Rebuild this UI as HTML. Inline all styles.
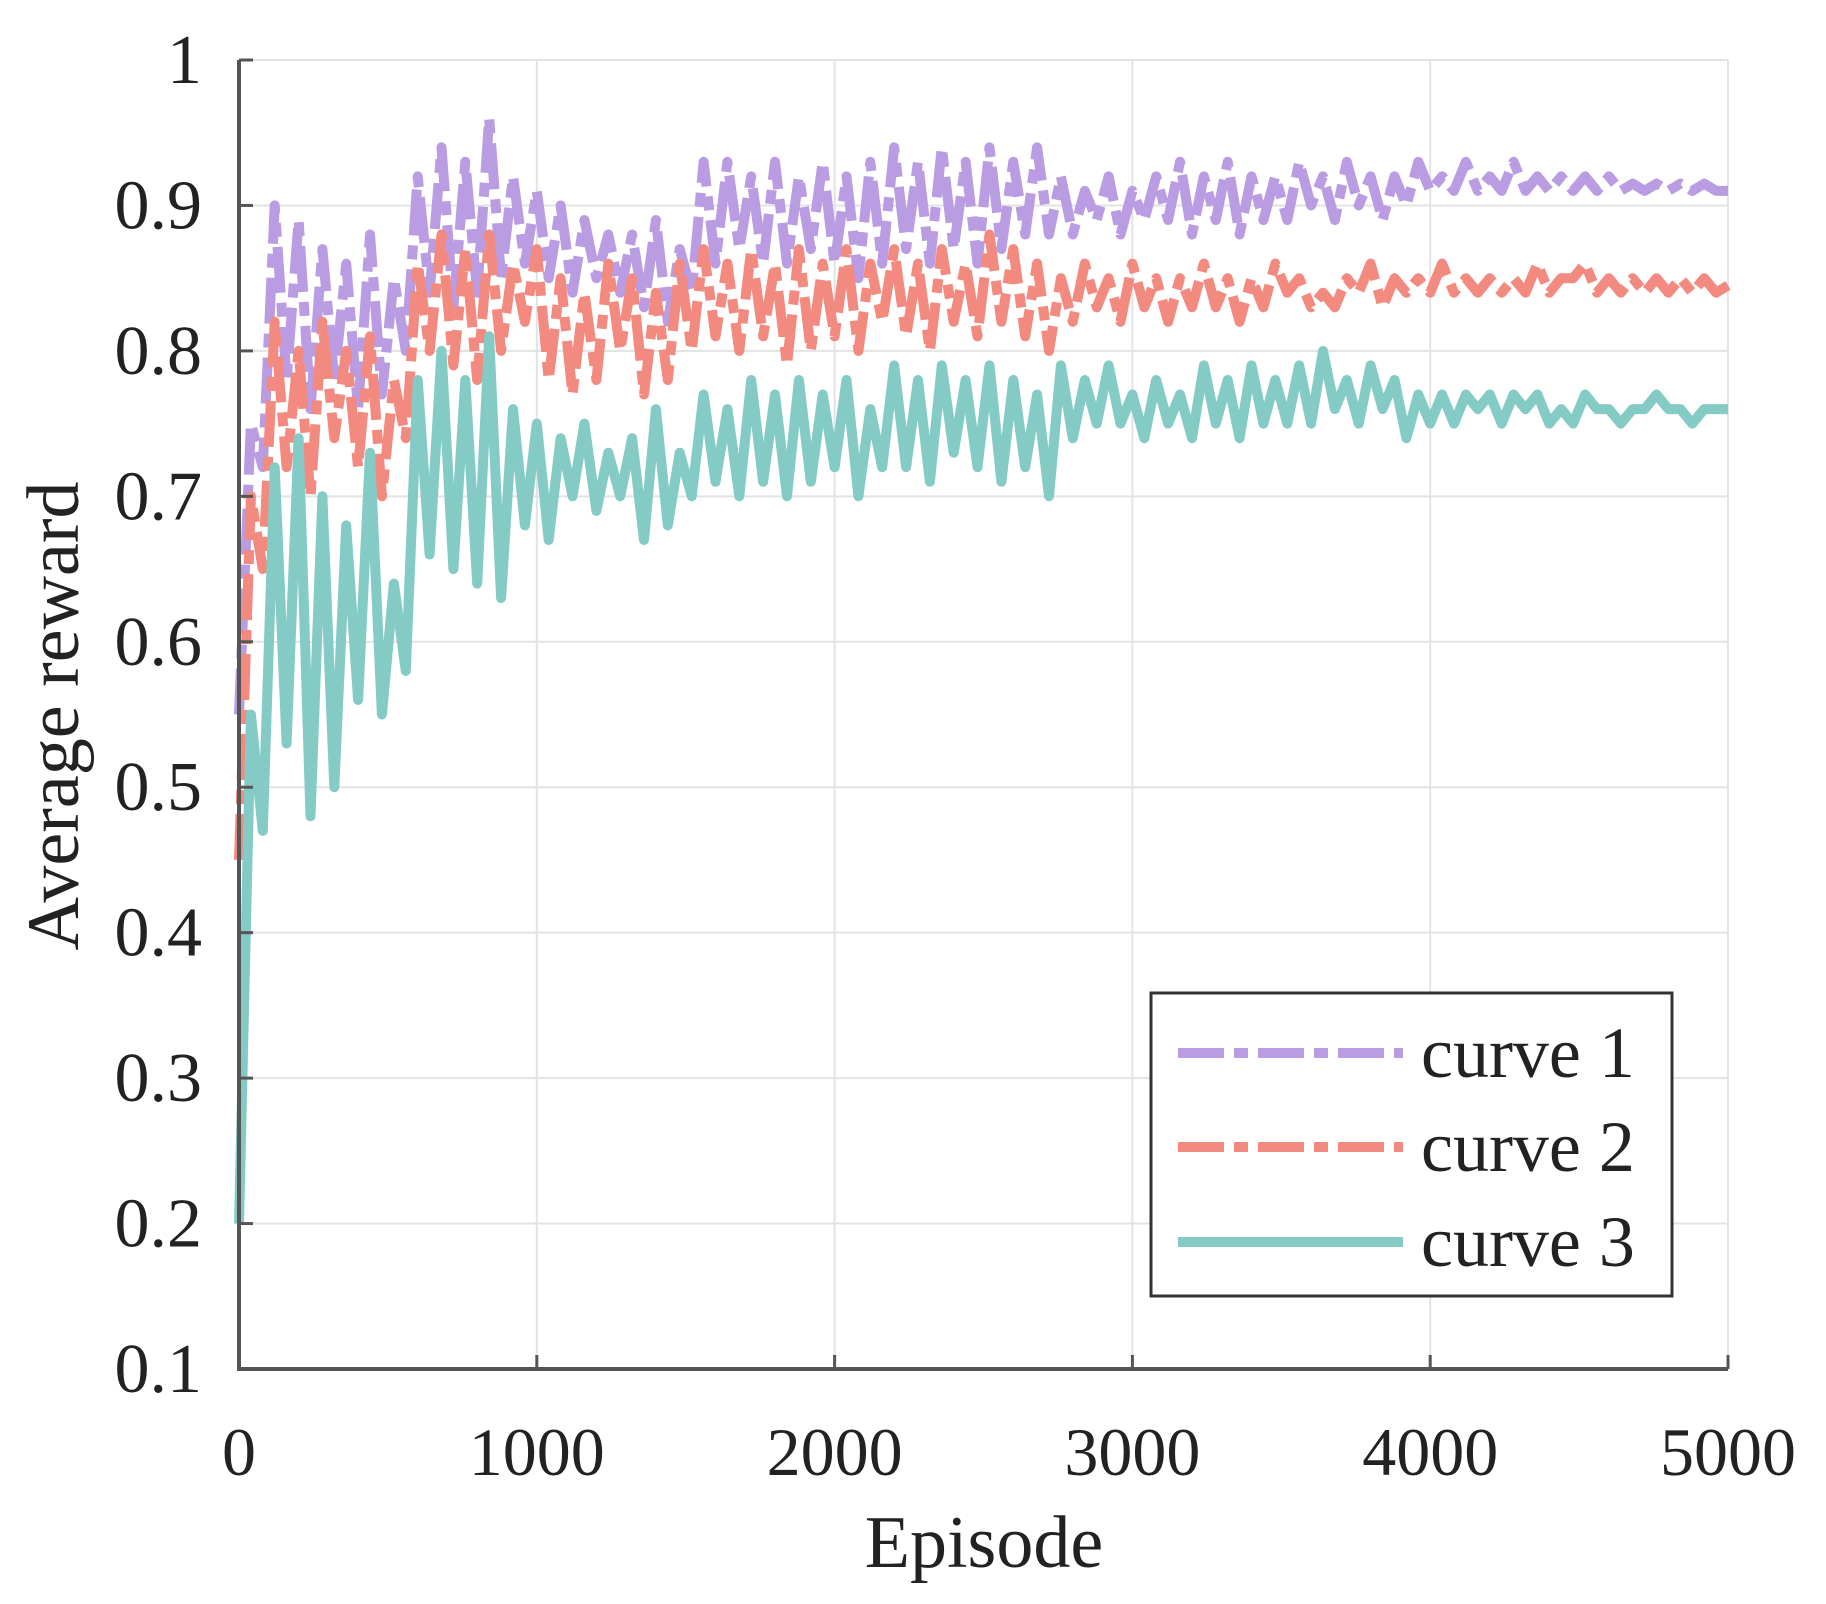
<!DOCTYPE html>
<html><head><meta charset="utf-8"><style>
html,body{margin:0;padding:0;background:#fff;}
svg{display:block;}
text{font-family:"Liberation Serif",serif;fill:#222;}
</style></head><body>
<svg id="chart" width="1826" height="1604" viewBox="0 0 1826 1604" xmlns="http://www.w3.org/2000/svg">
<g id="grid"></g>
<g id="series"></g>
<g id="axes"></g>
<text x="984" y="1567" font-size="74" text-anchor="middle">Episode</text>
<text transform="translate(78,716) rotate(-90)" font-size="74" text-anchor="middle">Average reward</text>
<g>
<rect x="1151" y="993" width="521" height="303" fill="#fff" stroke="#333" stroke-width="3"/>
<line x1="1178" y1="1053" x2="1403" y2="1053" stroke="#b99ce2" stroke-width="10" stroke-dasharray="46 10 14 10"/>
<text x="1421" y="1077" font-size="72">curve 1</text>
<line x1="1178" y1="1147" x2="1403" y2="1147" stroke="#f28a80" stroke-width="10" stroke-dasharray="46 10 14 10"/>
<text x="1421" y="1171" font-size="72">curve 2</text>
<line x1="1178" y1="1242" x2="1403" y2="1242" stroke="#85cbc5" stroke-width="10"/>
<text x="1421" y="1266" font-size="72">curve 3</text>
</g>
</svg>
<script>
const episodeStep = 40;
const xTicks = [0,1000,2000,3000,4000,5000];
const xTickLabels = ["0","1000","2000","3000","4000","5000"];
const yTicks = [0.1,0.2,0.3,0.4,0.5,0.6,0.7,0.8,0.9,1.0];
const yTickLabels = ["0.1","0.2","0.3","0.4","0.5","0.6","0.7","0.8","0.9","1"];
const curve1 = [0.55,0.75,0.72,0.90,0.78,0.89,0.76,0.87,0.78,0.86,0.76,0.88,0.77,0.85,0.80,0.92,0.84,0.94,0.83,0.93,0.84,0.96,0.85,0.92,0.86,0.91,0.85,0.90,0.84,0.89,0.85,0.88,0.84,0.88,0.83,0.89,0.82,0.87,0.84,0.93,0.86,0.93,0.87,0.92,0.86,0.93,0.86,0.92,0.87,0.93,0.86,0.92,0.85,0.93,0.86,0.94,0.87,0.93,0.86,0.94,0.87,0.93,0.86,0.94,0.87,0.93,0.88,0.94,0.88,0.92,0.88,0.91,0.89,0.92,0.88,0.91,0.89,0.92,0.89,0.93,0.88,0.92,0.89,0.93,0.88,0.92,0.89,0.92,0.89,0.93,0.90,0.92,0.89,0.93,0.90,0.92,0.89,0.92,0.90,0.93,0.91,0.92,0.91,0.93,0.91,0.92,0.91,0.93,0.91,0.92,0.91,0.92,0.91,0.92,0.91,0.92,0.91,0.915,0.91,0.915,0.91,0.915,0.91,0.915,0.91,0.91];
const curve2 = [0.45,0.70,0.65,0.82,0.72,0.80,0.70,0.82,0.74,0.80,0.72,0.81,0.70,0.78,0.74,0.86,0.80,0.88,0.79,0.87,0.78,0.88,0.80,0.86,0.82,0.87,0.78,0.85,0.77,0.84,0.78,0.86,0.80,0.85,0.77,0.84,0.78,0.86,0.80,0.87,0.81,0.86,0.80,0.87,0.81,0.86,0.79,0.87,0.80,0.86,0.81,0.87,0.80,0.86,0.82,0.87,0.81,0.86,0.80,0.87,0.82,0.86,0.81,0.88,0.82,0.87,0.81,0.86,0.80,0.85,0.82,0.86,0.83,0.85,0.82,0.86,0.83,0.85,0.82,0.85,0.83,0.86,0.83,0.85,0.82,0.85,0.83,0.86,0.84,0.85,0.83,0.84,0.83,0.85,0.84,0.86,0.83,0.85,0.84,0.85,0.84,0.86,0.84,0.85,0.84,0.85,0.84,0.85,0.84,0.86,0.84,0.85,0.85,0.86,0.84,0.85,0.84,0.85,0.84,0.85,0.84,0.85,0.84,0.85,0.84,0.845];
const curve3 = [0.20,0.55,0.47,0.72,0.53,0.74,0.48,0.70,0.50,0.68,0.56,0.73,0.55,0.64,0.58,0.78,0.66,0.80,0.65,0.78,0.64,0.81,0.63,0.76,0.68,0.75,0.67,0.74,0.70,0.75,0.69,0.73,0.70,0.74,0.67,0.76,0.68,0.73,0.70,0.77,0.71,0.76,0.70,0.78,0.71,0.77,0.70,0.78,0.71,0.77,0.72,0.78,0.70,0.76,0.72,0.79,0.72,0.78,0.71,0.79,0.73,0.78,0.72,0.79,0.71,0.78,0.72,0.77,0.70,0.79,0.74,0.78,0.75,0.79,0.75,0.77,0.74,0.78,0.75,0.77,0.74,0.79,0.75,0.78,0.74,0.79,0.75,0.78,0.75,0.79,0.75,0.80,0.76,0.78,0.75,0.79,0.76,0.78,0.74,0.77,0.75,0.77,0.75,0.77,0.76,0.77,0.75,0.77,0.76,0.77,0.75,0.76,0.75,0.77,0.76,0.76,0.75,0.76,0.76,0.77,0.76,0.76,0.75,0.76,0.76,0.76];

const NS = "http://www.w3.org/2000/svg";
const L = 239, R = 1728, T = 60, B = 1369;
function xs(v){ return L + (v/5000)*(R-L); }
function ys(v){ return B - ((v-0.1)/0.9)*(B-T); }
function mk(tag, attrs, parent){ const e = document.createElementNS(NS, tag); for (const k in attrs) e.setAttribute(k, attrs[k]); parent.appendChild(e); return e; }

const grid = document.getElementById('grid');
const axes = document.getElementById('axes');
const series = document.getElementById('series');

xTicks.forEach((t,i)=>{
  const g = mk('line',{x1:xs(t),x2:xs(t),y1:T,y2:B,stroke:'#e3e3e3','stroke-width':2},grid);
  
  
  const tk = mk('line',{x1:xs(t),x2:xs(t),y1:B,y2:B-14,stroke:'#555','stroke-width':3},axes);
  
  
  const lb = mk('text',{x:xs(t),y:1475,'font-size':68,'text-anchor':'middle'},axes);
  lb.textContent = xTickLabels[i];
  
  
});
yTicks.forEach((t,i)=>{
  const g = mk('line',{x1:L,x2:R,y1:ys(t),y2:ys(t),stroke:'#e3e3e3','stroke-width':2},grid);
  
  
  const tk = mk('line',{x1:L,x2:L+14,y1:ys(t),y2:ys(t),stroke:'#555','stroke-width':3},axes);
  
  
  const lb = mk('text',{x:202,y:ys(t)+23,'font-size':70,'text-anchor':'end'},axes);
  lb.textContent = yTickLabels[i];
  
  
});
const ax = mk('path',{d:`M${L},${T} L${L},${B} L${R},${B}`,fill:'none',stroke:'#555','stroke-width':4},axes);



function drawSeries(vals, color, dash, name){
  const d = vals.map((v,i)=>(i?'L':'M')+xs(i*episodeStep).toFixed(1)+','+ys(v).toFixed(1)).join(' ');
  const p = mk('path',{d:d,fill:'none',stroke:color,'stroke-width':10,'stroke-linejoin':'round'},series);
  if (dash) p.setAttribute('stroke-dasharray', dash);
  
  
}
drawSeries(curve1,'#b99ce2','46 10 14 10','curve-1-line');
drawSeries(curve2,'#f28a80','46 10 14 10','curve-2-line');
drawSeries(curve3,'#85cbc5',null,'curve-3-line');
</script>
</body></html>
